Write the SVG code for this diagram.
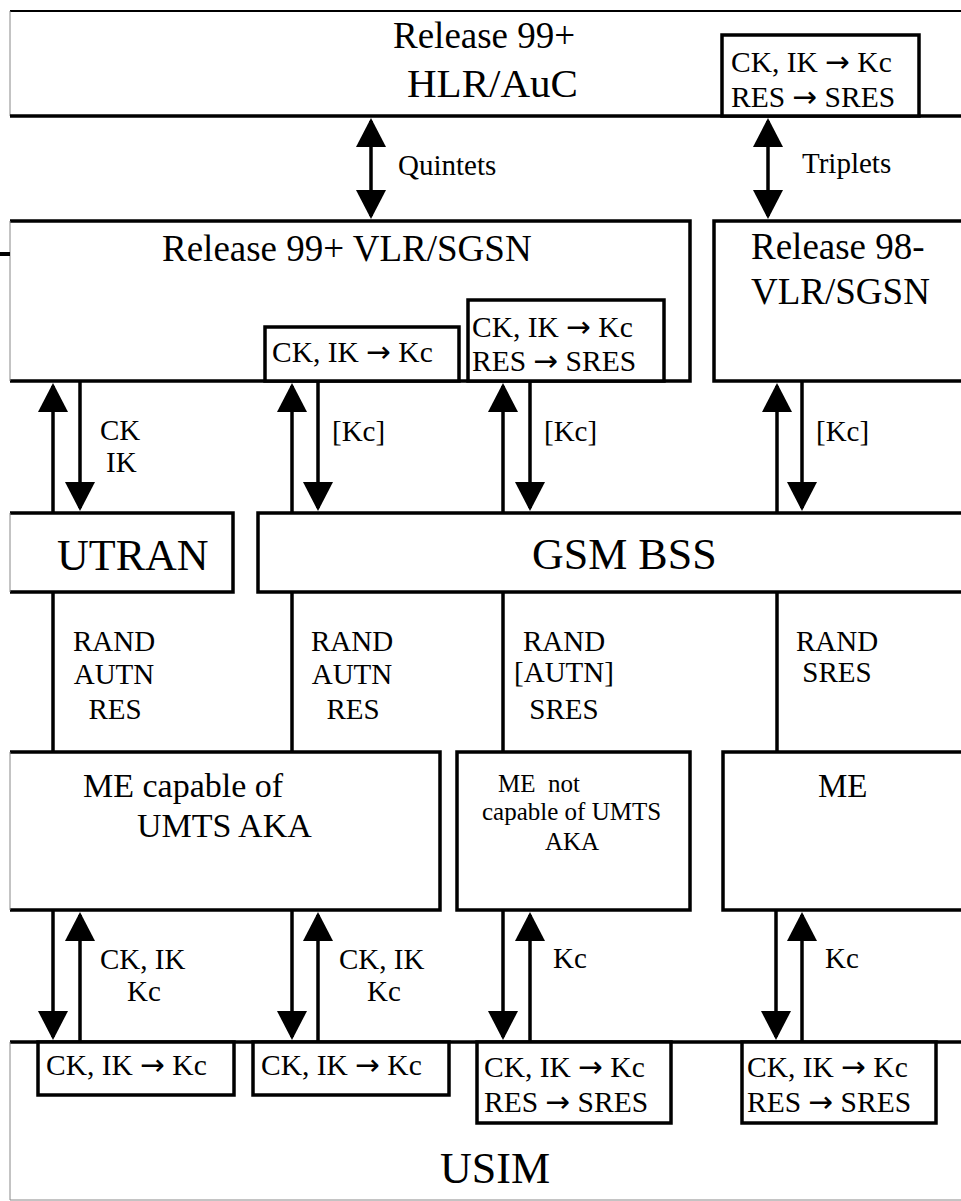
<svg xmlns="http://www.w3.org/2000/svg" width="961" height="1201" viewBox="0 0 961 1201">
<style>
.b{fill:none;stroke:#000;stroke-width:3.5}
.t{fill:none;stroke:#888;stroke-width:1}
.w{fill:#fff;stroke:#000;stroke-width:3.5}
.c{stroke:#000;stroke-width:3.5;fill:none}
text{font-family:"Liberation Serif","Times New Roman",serif;fill:#000}
.a{font-family:"DejaVu Sans",sans-serif}
.l{font-size:29px}
.k{font-size:29.5px}
.big{font-size:37px}
.xl{font-size:44px}
.m{text-anchor:middle}
</style>
<defs>
<marker id="ah" viewBox="0 0 29 30" refX="26" refY="15" markerWidth="29" markerHeight="30" markerUnits="userSpaceOnUse" orient="auto">
<path d="M0,0 L29,15 L0,30 z" fill="#000"/>
</marker>
</defs>
<rect x="0" y="0" width="961" height="1201" fill="#fff"/>

<g id="hlr">
<line x1="10" y1="11" x2="961" y2="11" stroke="#000" stroke-width="2"/>
<line class="t" x1="10" y1="11" x2="10" y2="116"/>
<line class="b" x1="10" y1="116" x2="961" y2="116"/>
<text class="big" x="393" y="48">Release 99+</text>
<text x="407" y="97" font-size="41">HLR/AuC</text>
</g>
<g id="hlr-conv">
<rect class="w" x="722" y="35" width="197" height="81"/>
<text class="k" x="731" y="72">CK, IK <tspan class="a">→</tspan> Kc</text>
<text class="k" x="731" y="107">RES <tspan class="a">→</tspan> SRES</text>
</g>

<g id="vlr99">
<polyline class="b" points="10,221 690,221 690,381 10,381"/>
<line class="t" x1="10" y1="221" x2="10" y2="381"/>
<text class="big" x="162" y="261">Release 99+ VLR/SGSN</text>
</g>
<g id="vlr99-conv1">
<rect class="w" x="265" y="327" width="194" height="54"/>
<text class="k" x="272" y="362">CK, IK <tspan class="a">→</tspan> Kc</text>
</g>
<g id="vlr99-conv2">
<rect class="w" x="468" y="300" width="196" height="81"/>
<text class="k" x="472" y="337">CK, IK <tspan class="a">→</tspan> Kc</text>
<text class="k" x="472" y="371">RES <tspan class="a">→</tspan> SRES</text>
</g>
<line x1="0" y1="254" x2="10" y2="254" stroke="#000" stroke-width="4"/>

<g id="vlr98">
<polyline class="b" points="961,221 714,221 714,381 961,381"/>
<text class="big" x="751" y="259">Release 98-</text>
<text class="big" x="751" y="304">VLR/SGSN</text>
</g>

<g id="utran">
<polyline class="b" points="10,513 233,513 233,592 10,592"/>
<line class="t" x1="10" y1="513" x2="10" y2="592"/>
<text class="xl" x="57" y="570">UTRAN</text>
</g>
<g id="bss">
<polyline class="b" points="961,513 258,513 258,592 961,592"/>
<text class="xl" x="532" y="569">GSM BSS</text>
</g>

<g id="me1">
<polyline class="b" points="10,752 440,752 440,910 10,910"/>
<line class="t" x1="10" y1="752" x2="10" y2="910"/>
<text x="83" y="797" font-size="34">ME capable of</text>
<text x="137" y="837" font-size="34">UMTS AKA</text>
</g>
<g id="me2">
<rect class="b" x="457" y="752" width="233" height="158"/>
<text x="498" y="792" font-size="25" xml:space="preserve">ME  not</text>
<text x="482" y="820" font-size="25">capable of UMTS</text>
<text x="545" y="850" font-size="25">AKA</text>
</g>
<g id="me3">
<polyline class="b" points="961,752 723,752 723,910 961,910"/>
<text x="818" y="797" font-size="33">ME</text>
</g>

<g id="usim">
<line class="b" x1="10" y1="1042" x2="961" y2="1042"/>
<line class="t" x1="10" y1="1042" x2="10" y2="1200"/>
<line class="t" x1="10" y1="1200" x2="961" y2="1200"/>
<text class="xl" x="440" y="1183">USIM</text>
</g>
<g id="usim-conv1">
<rect class="w" x="38" y="1042" width="196" height="53"/>
<text class="k" x="46" y="1075">CK, IK <tspan class="a">→</tspan> Kc</text>
</g>
<g id="usim-conv2">
<rect class="w" x="253" y="1042" width="196" height="53"/>
<text class="k" x="261" y="1075">CK, IK <tspan class="a">→</tspan> Kc</text>
</g>
<g id="usim-conv3">
<rect class="w" x="477" y="1042" width="194" height="81"/>
<text class="k" x="484" y="1077">CK, IK <tspan class="a">→</tspan> Kc</text>
<text class="k" x="484" y="1112">RES <tspan class="a">→</tspan> SRES</text>
</g>
<g id="usim-conv4">
<rect class="w" x="742" y="1042" width="194" height="81"/>
<text class="k" x="747" y="1077">CK, IK <tspan class="a">→</tspan> Kc</text>
<text class="k" x="747" y="1112">RES <tspan class="a">→</tspan> SRES</text>
</g>

<g id="connectors">
<line class="c" x1="371" y1="150" x2="371" y2="121" marker-end="url(#ah)"/>
<line class="c" x1="371" y1="150" x2="371" y2="216" marker-end="url(#ah)"/>
<line class="c" x1="768" y1="150" x2="768" y2="121" marker-end="url(#ah)"/>
<line class="c" x1="768" y1="150" x2="768" y2="216" marker-end="url(#ah)"/>

<line class="c" x1="53" y1="513" x2="53" y2="386" marker-end="url(#ah)"/>
<line class="c" x1="80" y1="381" x2="80" y2="508" marker-end="url(#ah)"/>
<line class="c" x1="292" y1="513" x2="292" y2="386" marker-end="url(#ah)"/>
<line class="c" x1="318" y1="381" x2="318" y2="508" marker-end="url(#ah)"/>
<line class="c" x1="503" y1="513" x2="503" y2="386" marker-end="url(#ah)"/>
<line class="c" x1="530" y1="381" x2="530" y2="508" marker-end="url(#ah)"/>
<line class="c" x1="777" y1="513" x2="777" y2="386" marker-end="url(#ah)"/>
<line class="c" x1="802" y1="381" x2="802" y2="508" marker-end="url(#ah)"/>

<line class="c" x1="53" y1="592" x2="53" y2="752"/>
<line class="c" x1="292" y1="592" x2="292" y2="752"/>
<line class="c" x1="503" y1="592" x2="503" y2="752"/>
<line class="c" x1="777" y1="592" x2="777" y2="752"/>

<line class="c" x1="53" y1="910" x2="53" y2="1037" marker-end="url(#ah)"/>
<line class="c" x1="80" y1="1042" x2="80" y2="915" marker-end="url(#ah)"/>
<line class="c" x1="292" y1="910" x2="292" y2="1037" marker-end="url(#ah)"/>
<line class="c" x1="318" y1="1042" x2="318" y2="915" marker-end="url(#ah)"/>
<line class="c" x1="503" y1="910" x2="503" y2="1037" marker-end="url(#ah)"/>
<line class="c" x1="530" y1="1042" x2="530" y2="915" marker-end="url(#ah)"/>
<line class="c" x1="776" y1="910" x2="776" y2="1037" marker-end="url(#ah)"/>
<line class="c" x1="802" y1="1042" x2="802" y2="915" marker-end="url(#ah)"/>

<text class="l" x="398" y="175" font-size="30">Quintets</text>
<text class="l" x="802" y="173">Triplets</text>
<text class="l" x="100" y="440">CK</text>
<text class="l" x="106" y="472">IK</text>
<text class="l" x="332" y="441">[Kc]</text>
<text class="l" x="544" y="441">[Kc]</text>
<text class="l" x="816" y="441">[Kc]</text>
<text class="l m" x="114" y="651">RAND</text>
<text class="l m" x="114" y="684">AUTN</text>
<text class="l m" x="115" y="719">RES</text>
<text class="l m" x="352" y="651">RAND</text>
<text class="l m" x="352" y="684">AUTN</text>
<text class="l m" x="353" y="719">RES</text>
<text class="l m" x="564" y="651">RAND</text>
<text class="l m" x="564" y="682">[AUTN]</text>
<text class="l m" x="564" y="719">SRES</text>
<text class="l m" x="837" y="651">RAND</text>
<text class="l m" x="837" y="682">SRES</text>
<text class="l" x="100" y="969">CK, IK</text>
<text class="l" x="127" y="1001">Kc</text>
<text class="l" x="339" y="969">CK, IK</text>
<text class="l" x="367" y="1001">Kc</text>
<text class="l" x="553" y="968">Kc</text>
<text class="l" x="825" y="968">Kc</text>
</g>
</svg>
